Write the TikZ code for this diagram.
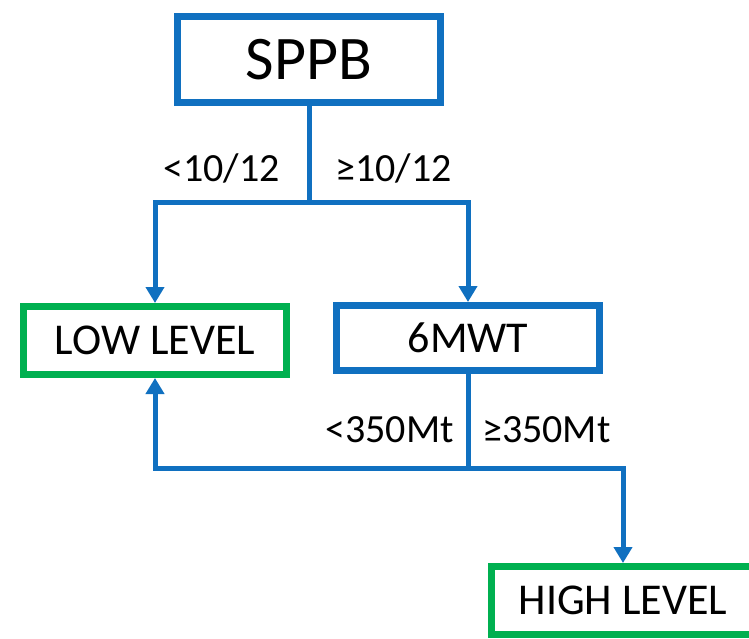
\documentclass[tikz,border=0pt]{standalone}
\usepackage{fontspec}
\setmainfont{Carlito}
\usetikzlibrary{arrows.meta}
\definecolor{boxblue}{RGB}{16,112,192}
\definecolor{boxgreen}{RGB}{0,176,80}
\begin{document}
\begin{tikzpicture}[x=1pt,y=-1pt,
  bluebox/.style={draw=boxblue,line width=7pt,minimum width=263pt,inner sep=0pt,font=\fontsize{44}{48}\selectfont},
  greenbox/.style={draw=boxgreen,line width=7pt,minimum width=263pt,minimum height=68pt,inner sep=0pt,font=\fontsize{44}{48}\selectfont},
  conn/.style={draw=boxblue,line width=5pt},
  arr/.style={conn,-{Triangle[length=16pt,width=18pt]}},
  lbl/.style={font=\fontsize{40}{44}\selectfont,inner sep=0pt}]
\useasboundingbox (0,0) rectangle (749,639);
\clip (0,0) rectangle (749,639);
\fill[white] (0,0) rectangle (749,639);
\node[bluebox,minimum height=86pt,font=\fontsize{62}{66}\selectfont] (sppb) at (309,60) {SPPB};
\node[greenbox] (low) at (155,340.5) {LOW LEVEL};
\node[bluebox,minimum height=65pt] (mwt) at (468,338) {6MWT};
\node[greenbox] (high) at (623,600.5) {HIGH LEVEL};
\coordinate (j1) at (309,202);
\coordinate (j2) at (468,468);
\draw[conn] (sppb.south) -- (j1);
\draw[arr] (j1) -| (low.north);
\draw[arr] (j1) -| (mwt.north);
\draw[conn] (mwt.south) -- (j2);
\draw[arr] (j2) -| (low.south);
\draw[arr] (j2) -| (high.north);
\node[lbl,anchor=base east] (l1) at (280,182) {<10/12};
\node[lbl,anchor=base west] (l2) at (335,182) {≥10/12};
\node[lbl,anchor=base east] (l3) at (454,442) {<350Mt};
\node[lbl,anchor=base west] (l4) at (482,442) {≥350Mt};
\end{tikzpicture}
\end{document}
